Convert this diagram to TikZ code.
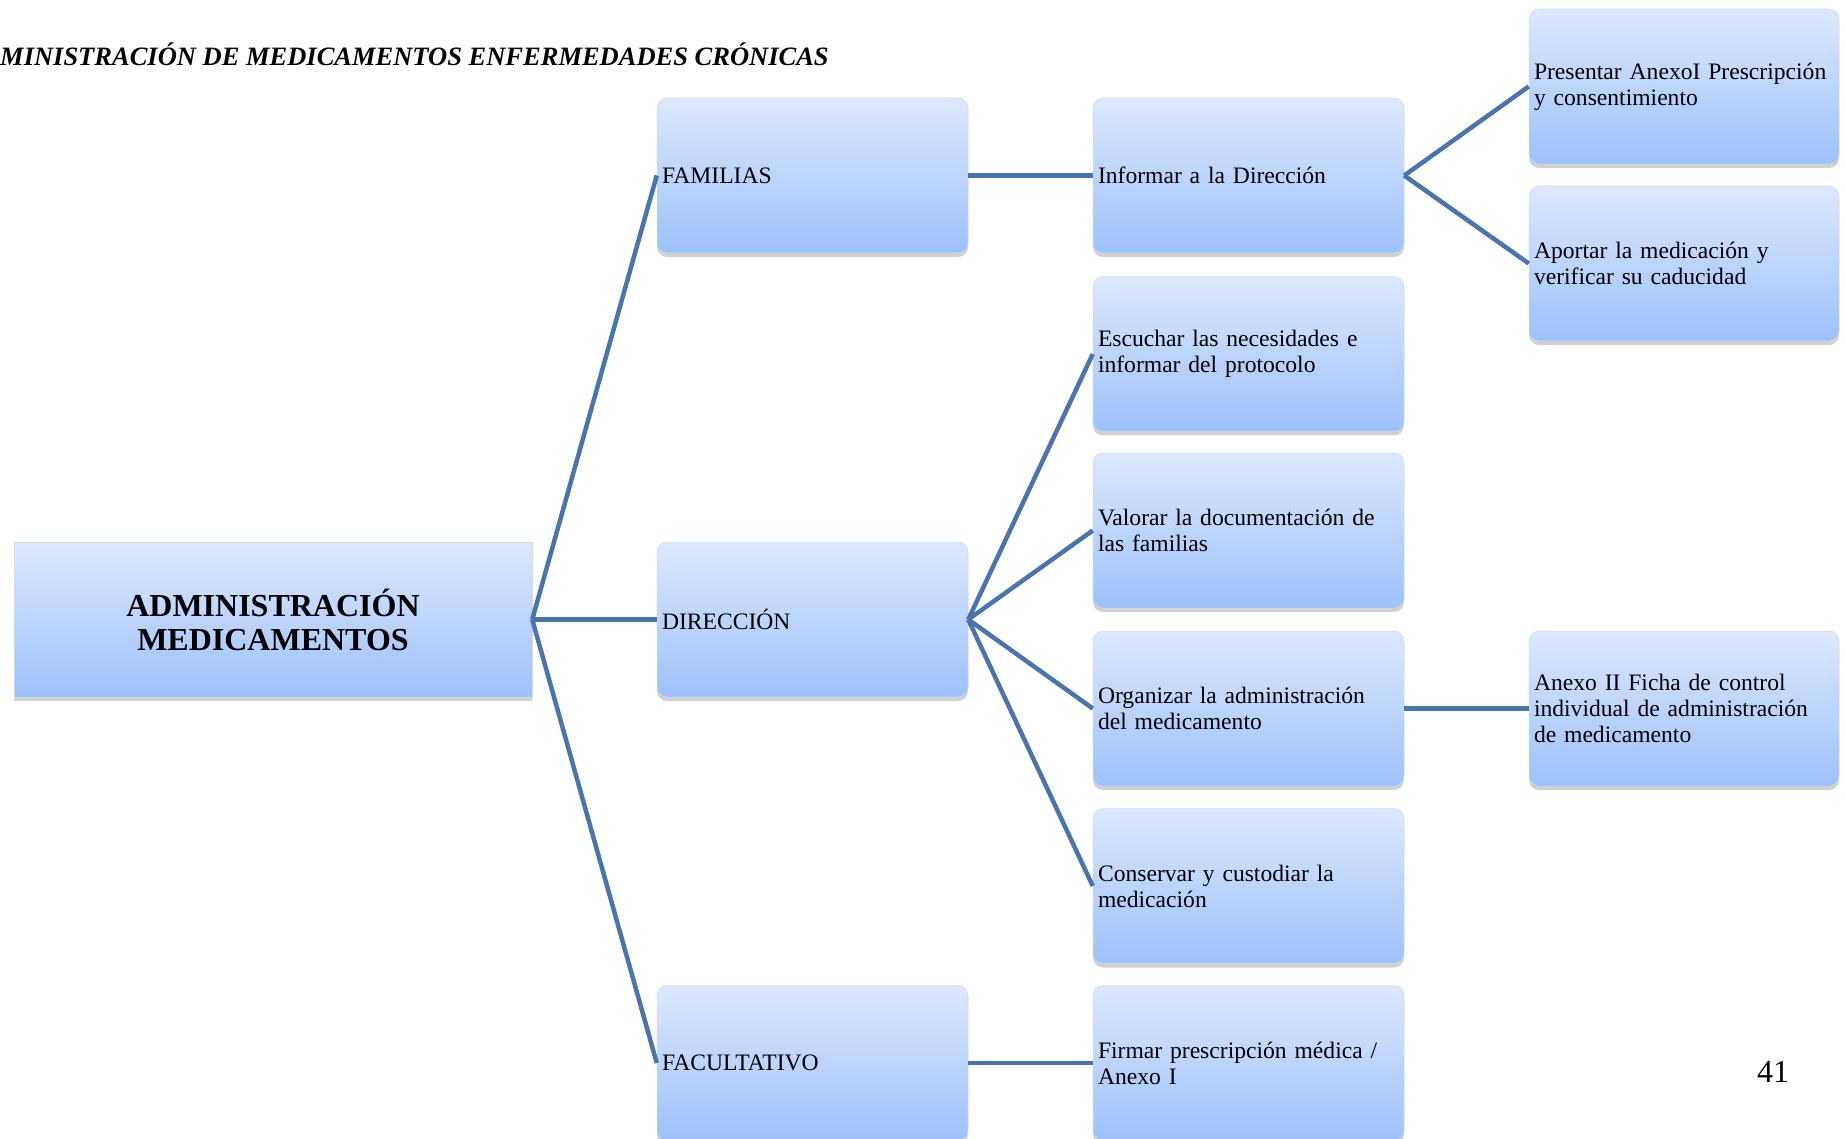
\documentclass[tikz,border=0pt]{standalone}
\usepackage{fontspec}
\setmainfont{Liberation Serif}
\usepackage{tikz}
\usetikzlibrary{positioning,shadows}
\definecolor{MedTop}{HTML}{DDE8FC}
\definecolor{MedBottom}{HTML}{9CC1FB}
\definecolor{MedLine}{HTML}{4A74AE}
\definecolor{MedBorder}{HTML}{D2DAE5}

\begin{document}
\begin{tikzpicture}[x=1pt,y=-1pt,
    medbox/.style={rectangle, rounded corners=10pt, draw=MedBorder, line width=0.5pt,
      top color=MedTop, bottom color=MedBottom,
      drop shadow={shadow xshift=0pt, shadow yshift=-4pt, opacity=0.3, fill=black!60},
      minimum width=311pt, minimum height=155pt, text width=301pt, inner xsep=5pt,
      align=left, font=\fontsize{23.6}{26}\selectfont},
    link/.style={MedLine, line width=4.5pt}]
        \useasboundingbox (0,0) rectangle (1845,1139);
        \clip (0,0) rectangle (1845,1139);

        % Title
        \node[anchor=base west, inner sep=0pt, font=\bfseries\itshape\fontsize{26.5}{28}\selectfont] (title) at (0,66)
          {MINISTRACIÓN DE MEDICAMENTOS ENFERMEDADES CRÓNICAS};

        % Root
        \node[medbox, rounded corners=0pt, minimum width=518pt, text width=508pt, align=center,
          font=\bfseries\fontsize{32}{34}\selectfont] (admin) at (273,619.5)
          {ADMINISTRACIÓN\\MEDICAMENTOS};

        % Second column
        \node[medbox] (familias) at (812.5,175.5) {FAMILIAS};
        \node[medbox] (direccion) at (812.5,619.5) {DIRECCIÓN};
        \node[medbox] (facultativo) at (812.5,1063) {FACULTATIVO};

        % Third column
        \node[medbox] (informar) at (1248.5,175.5) {Informar a la Dirección};
        \node[medbox] (escuchar) at (1248.5,354) {Escuchar las necesidades e\\informar del protocolo};
        \node[medbox] (valorar) at (1248.5,530.5) {Valorar la documentación de\\las familias};
        \node[medbox] (organizar) at (1248.5,708.5) {Organizar la administración\\del medicamento};
        \node[medbox] (conservar) at (1248.5,886) {Conservar y custodiar la\\medicación};
        \node[medbox] (firmar) at (1248.5,1063) {Firmar prescripción médica /\\Anexo I};

        % Fourth column
        \node[medbox, minimum width=310pt, text width=300pt] (presentar) at (1684,86.5)
          {Presentar AnexoI Prescripción\\y consentimiento};
        \node[medbox, minimum width=310pt, text width=300pt] (aportar) at (1684,263.5)
          {Aportar la medicación y\\verificar su caducidad};
        \node[medbox, minimum width=310pt, text width=300pt] (anexo) at (1684,708.5)
          {Anexo II Ficha de control\\individual de administración\\de medicamento};

        % Page number
        \node[anchor=base west, inner sep=0pt, font=\fontsize{32}{34}\selectfont] (pagenum) at (1757,1082) {41};

        % Connectors
        \draw[link] (admin.east) -- (familias.west);
        \draw[link] (admin.east) -- (direccion.west);
        \draw[link] (admin.east) -- (facultativo.west);
        \draw[link] (familias.east) -- (informar.west);
        \draw[link] (informar.east) -- (presentar.west);
        \draw[link] (informar.east) -- (aportar.west);
        \draw[link] (direccion.east) -- (escuchar.west);
        \draw[link] (direccion.east) -- (valorar.west);
        \draw[link] (direccion.east) -- (organizar.west);
        \draw[link] (direccion.east) -- (conservar.west);
        \draw[link] (organizar.east) -- (anexo.west);
        \draw[link] (facultativo.east) -- (firmar.west);
      \end{tikzpicture}
\end{document}
